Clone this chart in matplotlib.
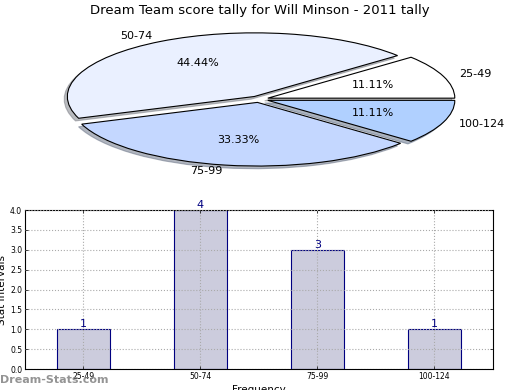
import numpy as np
import matplotlib
matplotlib.use("Agg")
import matplotlib.pyplot as plt

#---------------------------------------------------
#----------------------data-------------------------
#---------------------------------------------------
intervals = ["25-49", "50-74", "75-99", "100-124"]
counts = [1, 4, 3, 1]
pie_colors = ["#ffffff", "#eaf0ff", "#c4d7ff", "#b0d0ff"]
y_ticks = [0.0, 0.5, 1.0, 1.5, 2.0, 2.5, 3.0, 3.5, 4.0]

TITLE = "Dream Team score tally for Will Minson - 2011 tally"

fig = plt.figure(figsize=(5.2, 3.9), dpi=100)

#---------------------PIE---------------------------
ax_pie = fig.add_axes([0.0486, 0.5415, 0.899, 0.408])
wedges, texts, autotexts = ax_pie.pie(
    counts, labels=intervals, colors=pie_colors, explode=[0.05] * len(counts),
    autopct="%.2f%%", shadow=dict(ox=-0.012, oy=-0.03, shade=0.5),
    startangle=0, counterclock=True, labeldistance=1.09,
    wedgeprops=dict(edgecolor="black", linewidth=0.8),
    textprops=dict(fontsize=8))
ax_pie.set_aspect("auto")
ax_pie.set_xlim(-1.25, 1.25)
ax_pie.set_ylim(-1.25, 1.25)
ax_pie.axis("off")
fig.text(0.5, 0.972, TITLE, ha="center", va="center", fontsize=9.5)

#---------------------BAR---------------------------
ax = fig.add_axes([0.048, 0.0538, 0.9, 0.4077])
x = np.arange(len(intervals)) + 0.5
ax.bar(x, counts, width=0.45, color="#ccccdd", edgecolor="#000080", linewidth=0.8)
for xi, c in zip(x, counts):
    ax.text(xi, c, str(c), ha="center", va="bottom", color="#000080", fontsize=8)

ax.set_xlim(0, len(intervals))
ax.set_ylim(0, 4)
ax.set_xticks(x)
ax.set_xticklabels(intervals)
ax.set_yticks(y_ticks)
ax.set_yticklabels(["%.1f" % t for t in y_ticks])
ax.tick_params(labelsize=5.5, direction="in", length=2, width=0.5, top=True, right=True, pad=2)
ax.grid(True, linestyle=":", color="#aaaaaa", linewidth=0.8)
ax.set_axisbelow(False)
ax.set_ylabel("Stat Intervals", fontsize=7.5, labelpad=2)
ax.set_xlabel("Frequency", fontsize=7.5, labelpad=3)

fig.text(0.0, 0.025, "Dream-Stats.com", ha="left", va="center", fontsize=8,
         color="#888888", fontweight="bold", alpha=0.9)

plt.savefig("out.png", dpi=100)
